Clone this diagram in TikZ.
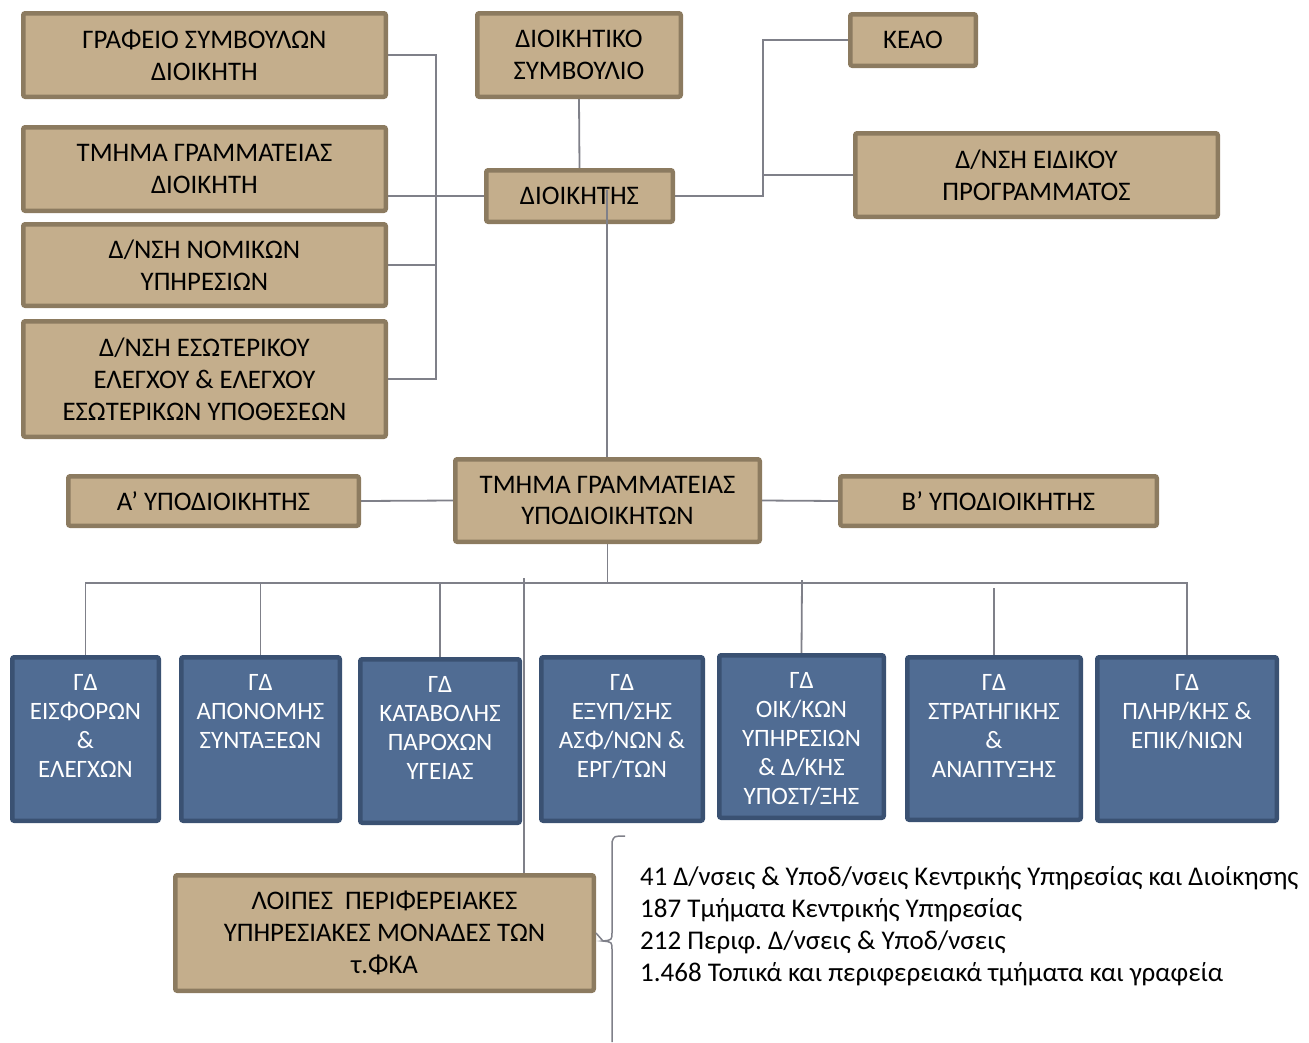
\documentclass[tikz,border=0pt]{standalone}
\usepackage{fontspec}
\setmainfont{Carlito}
\usetikzlibrary{backgrounds}
\definecolor{tanfill}{HTML}{C4AE8C}
\definecolor{tanline}{HTML}{8C7B60}
\definecolor{bluefill}{HTML}{506C93}
\definecolor{blueline}{HTML}{3A5172}
\definecolor{conncol}{HTML}{7F8089}
\tikzset{
  tanbox/.style={draw=tanline, fill=tanfill, line width=4.5pt, rounded corners=2pt,
    align=center, font=\fontsize{26.8}{31.8}\selectfont, text=black, inner sep=0pt},
  bluebox/.style={draw=blueline, fill=bluefill, line width=4.5pt, rounded corners=2pt, inner sep=0pt},
  bluetext/.style={text=white, align=center, font=\fontsize{25}{29}\selectfont, inner sep=0pt, anchor=north},
  conn/.style={draw=conncol, line width=1.8pt},
  listtext/.style={align=left, font=\fontsize{27}{32}\selectfont, inner sep=0pt, anchor=west, text=black}
}
\begin{document}
\frenchspacing
\begin{tikzpicture}[x=1pt,y=-1pt]
\useasboundingbox (0,0) rectangle (1309,1042);
% tan boxes
\node[tanbox, minimum width=362.5pt, minimum height=83.5pt] (b1) at (204.5,55) {ΓΡΑΦΕΙΟ ΣΥΜΒΟΥΛΩΝ\\ΔΙΟΙΚΗΤΗ};
\node[tanbox, minimum width=362.5pt, minimum height=83.5pt] (b2) at (204.5,169) {ΤΜΗΜΑ ΓΡΑΜΜΑΤΕΙΑΣ\\ΔΙΟΙΚΗΤΗ};
\node[tanbox, minimum width=362.5pt, minimum height=81.5pt] (b3) at (204.5,265) {Δ/ΝΣΗ ΝΟΜΙΚΩΝ\\ΥΠΗΡΕΣΙΩΝ};
\node[tanbox, minimum width=362.5pt, minimum height=115.5pt] (b4) at (204.5,379) {Δ/ΝΣΗ ΕΣΩΤΕΡΙΚΟΥ\\ΕΛΕΓΧΟΥ \& ΕΛΕΓΧΟΥ\\ΕΣΩΤΕΡΙΚΩΝ ΥΠΟΘΕΣΕΩΝ};
\node[tanbox, minimum width=203.5pt, minimum height=83.5pt] (ds) at (579,55) {ΔΙΟΙΚΗΤΙΚΟ\\ΣΥΜΒΟΥΛΙΟ};
\node[tanbox, minimum width=186.5pt, minimum height=51.5pt] (dk) at (579.5,196) {ΔΙΟΙΚΗΤΗΣ};
\node[tanbox, minimum width=125.5pt, minimum height=51.5pt] (keao) at (913,40) {ΚΕΑΟ};
\node[tanbox, minimum width=362.5pt, minimum height=83.5pt] (eid) at (1036.5,175) {Δ/ΝΣΗ ΕΙΔΙΚΟΥ\\ΠΡΟΓΡΑΜΜΑΤΟΣ};
\node[tanbox, minimum width=304.5pt, minimum height=82.5pt] (ty) at (607.5,500.5) {ΤΜΗΜΑ ΓΡΑΜΜΑΤΕΙΑΣ\\ΥΠΟΔΙΟΙΚΗΤΩΝ};
\node[tanbox, minimum width=290.5pt, minimum height=49.5pt] (ya) at (213.5,501) {Α’ ΥΠΟΔΙΟΙΚΗΤΗΣ};
\node[tanbox, minimum width=316.5pt, minimum height=49.5pt] (yb) at (998.5,501) {Β’ ΥΠΟΔΙΟΙΚΗΤΗΣ};
\node[tanbox, minimum width=418.5pt, minimum height=115.5pt] (lo) at (384.5,933) {ΛΟΙΠΕΣ~~ΠΕΡΙΦΕΡΕΙΑΚΕΣ\\ΥΠΗΡΕΣΙΑΚΕΣ ΜΟΝΑΔΕΣ ΤΩΝ\\τ.ΦΚΑ};
% blue boxes
\node[bluebox, minimum width=146.5pt, minimum height=163.5pt] (g1) at (85.5,739) {};
\node[bluebox, minimum width=158.5pt, minimum height=163.5pt] (g2) at (260.5,739) {};
\node[bluebox, minimum width=159.5pt, minimum height=163.5pt] (g3) at (440,741) {};
\node[bluebox, minimum width=161.5pt, minimum height=163.5pt] (g4) at (622,739) {};
\node[bluebox, minimum width=164.5pt, minimum height=162.5pt] (g5) at (801.5,736.5) {};
\node[bluebox, minimum width=173.5pt, minimum height=162.5pt] (g6) at (994,738.5) {};
\node[bluebox, minimum width=179.5pt, minimum height=163.5pt] (g7) at (1187,739) {};
\node[bluetext] (t1) at ([yshift=-19pt]g1.north) {ΓΔ\\ΕΙΣΦΟΡΩΝ\\\&\\ΕΛΕΓΧΩΝ};
\node[bluetext] (t2) at ([yshift=-19pt]g2.north) {ΓΔ\\ΑΠΟΝΟΜΗΣ\\ΣΥΝΤΑΞΕΩΝ};
\node[bluetext] (t3) at ([yshift=-19pt]g3.north) {ΓΔ\\ΚΑΤΑΒΟΛΗΣ\\ΠΑΡΟΧΩΝ\\ΥΓΕΙΑΣ};
\node[bluetext] (t4) at ([yshift=-19pt]g4.north) {ΓΔ\\ΕΞΥΠ/ΣΗΣ\\ΑΣΦ/ΝΩΝ \&\\ΕΡΓ/ΤΩΝ};
\node[bluetext] (t5) at ([yshift=-19pt]g5.north) {ΓΔ\\ΟΙΚ/ΚΩΝ\\ΥΠΗΡΕΣΙΩΝ\\\& Δ/ΚΗΣ\\ΥΠΟΣΤ/ΞΗΣ};
\node[bluetext] (t6) at ([yshift=-19pt]g6.north) {ΓΔ\\ΣΤΡΑΤΗΓΙΚΗΣ\\\&\\ΑΝΑΠΤΥΞΗΣ};
\node[bluetext] (t7) at ([yshift=-19pt]g7.north) {ΓΔ\\ΠΛΗΡ/ΚΗΣ \&\\ΕΠΙΚ/ΝΙΩΝ};
% list
\node[listtext] (lst) at (640,926) {\scalebox{0.99}[1]{41 Δ/νσεις \& Υποδ/νσεις Κεντρικής Υπηρεσίας και Διοίκησης}\\187 Τμήματα Κεντρικής Υπηρεσίας\\212 Περιφ. Δ/νσεις \& Υποδ/νσεις\\1.468 Τοπικά και περιφερειακά τμήματα και γραφεία};
% connectors
\begin{pgfonlayer}{background}
\coordinate (vx) at (436,0);
\draw[conn] (b1.east) -| (b4.east -| vx) -- (b4.east);
\draw[conn] (b3.east) -- (b3.east -| vx);
\draw[conn] (dk.west) -- (dk.west -| b2.east);
\draw[conn] (ds.south) -- (dk.north);
\coordinate (vr) at (763,0);
\draw[conn] (dk.east) -| (keao.west -| vr) -- (keao.west);
\draw[conn] (eid.west) -- (eid.west -| vr);
\draw[conn] (ya.east) -- (ty.west);
\draw[conn] (ty.east) -- (yb.west);
\coordinate (bus) at (0,583);
\draw[conn] (ty.south) -- (ty.south |- bus);
\draw[conn] (g1.north) -- (g1.north |- bus) -- (g7.north |- bus) -- (g7.north);
\draw[conn] (g2.north) -- (g2.north |- bus);
\draw[conn] (g3.north) -- (g3.north |- bus);
\coordinate (g5top) at (802,580);
\draw[conn] (g5.north) -- (g5top);
\coordinate (g6top) at (994,588);
\draw[conn] (g6.north) -- (g6top);
\coordinate (lx) at (524,578);
\draw[conn] (lx) -- (lx |- lo.north);
\end{pgfonlayer}
\coordinate (dkv) at (607,190);
\draw[conn] (dkv) -- (dkv |- ty.north);
% brace
\coordinate (brtop) at (625,836);
\coordinate (brtip) at (603,941);
\coordinate (brbot) at (612,1042);
\draw[conn, line width=1.5pt] (brtop) .. controls (614,836) .. (612,842) -- (612,932) .. controls (612,940) .. (brtip)
  .. controls (612,942) .. (612,950) -- (brbot);
\draw[conn, line width=1.5pt] (lo.east) -- (brtip);
\end{tikzpicture}
\end{document}
